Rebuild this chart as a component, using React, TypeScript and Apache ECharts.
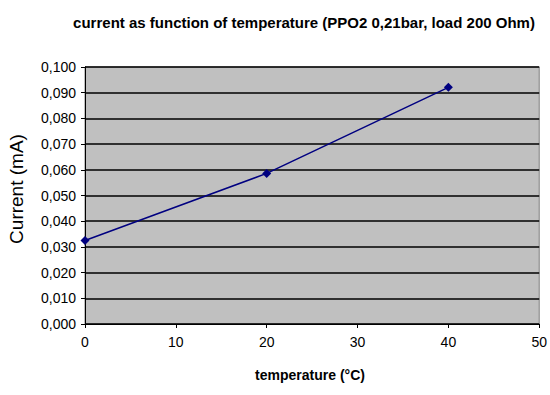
import React, { useEffect, useRef } from "react";
import * as echarts from "echarts";

const temperatures = [0, 20, 40];
const currents = [0.0325, 0.0586, 0.0921];
const titleText = "current as function of temperature (PPO2 0,21bar, load 200 Ohm)";
const xTitle = "temperature (°C)";
const yTitle = "Current (mA)";

export default function App() {
  const ref = useRef<HTMLDivElement>(null);
  useEffect(() => {
    document.body.style.margin = "0";
    const chart = echarts.init(ref.current!, null, { renderer: "svg" });
    chart.setOption({
      animation: false,
      backgroundColor: "#ffffff",
      textStyle: { fontFamily: "Liberation Sans" },
      grid: {
        left: 85,
        right: 8,
        top: 67,
        bottom: 71,
        show: true,
        backgroundColor: "#c0c0c0",
        borderColor: "#808080",
        borderWidth: 1,
      },
      graphic: [
        {
          type: "text",
          x: 304,
          y: 22,
          style: {
            text: titleText,
            font: "bold 15px 'Liberation Sans'",
            fill: "#000",
            align: "center",
            verticalAlign: "middle",
          },
        },
        {
          type: "text",
          x: 310,
          y: 375,
          style: {
            text: xTitle,
            font: "bold 14px 'Liberation Sans'",
            fill: "#000",
            align: "center",
            verticalAlign: "middle",
          },
        },
        {
          type: "text",
          x: 16,
          y: 189,
          rotation: Math.PI / 2,
          style: {
            text: yTitle,
            font: "19px 'Liberation Sans'",
            fill: "#000",
            align: "center",
            verticalAlign: "middle",
          },
        },
      ],
      xAxis: {
        type: "value",
        min: 0,
        max: 50,
        interval: 10,
        axisLine: { show: true, lineStyle: { color: "#000", width: 1 } },
        axisTick: { show: true, length: 4, lineStyle: { color: "#000" } },
        axisLabel: { color: "#000", fontSize: 14, margin: 11 },
        splitLine: { show: false },
      },
      yAxis: {
        type: "value",
        min: 0,
        max: 0.1,
        interval: 0.01,
        axisLine: { show: true, lineStyle: { color: "#000", width: 1 } },
        axisTick: { show: true, length: 4, lineStyle: { color: "#000" } },
        axisLabel: {
          color: "#000",
          fontSize: 14,
          margin: 9,
          formatter: (v: number) => v.toFixed(3).replace(".", ","),
        },
        splitLine: { show: true, lineStyle: { color: "#000", width: 1.5 } },
      },
      series: [
        {
          type: "line",
          data: temperatures.map((t, i) => [t, currents[i]]),
          symbol: "diamond",
          symbolSize: 9,
          lineStyle: { color: "#000080", width: 1.5 },
          itemStyle: { color: "#000080" },
        },
      ],
    });
    return () => chart.dispose();
  }, []);
  return <div ref={ref} style={{ width: 550, height: 395 }} />;
}
